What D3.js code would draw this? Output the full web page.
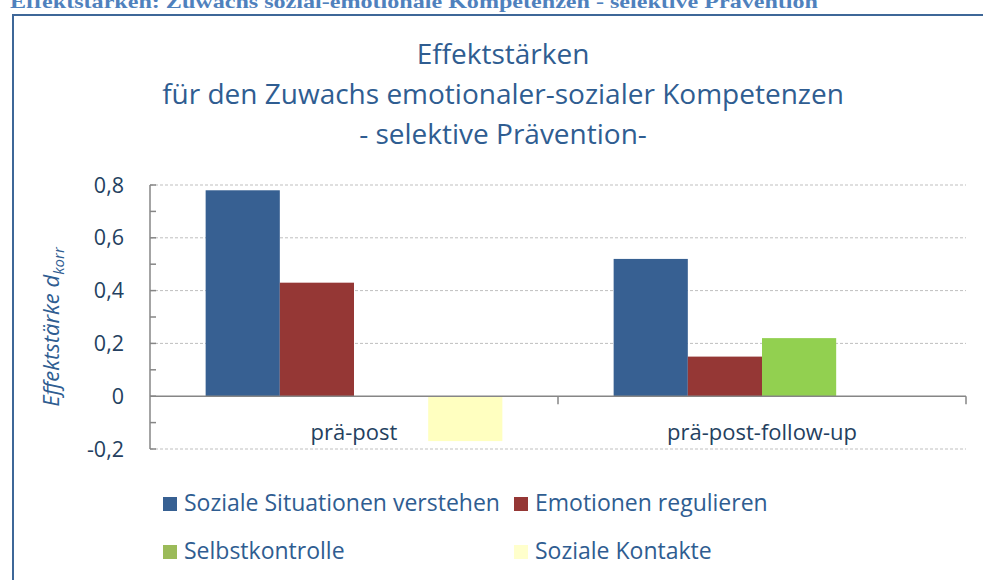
<!DOCTYPE html>
<html><head><meta charset="utf-8">
<script src="https://cdn.jsdelivr.net/npm/d3@7"></script>
<style>body{margin:0;background:#fff}svg{display:block}</style>
</head><body>
<svg id="c" width="983" height="580"></svg>
<script>
const categories = ["prä-post", "prä-post-follow-up"];
const series = ["Soziale Situationen verstehen", "Emotionen regulieren", "Selbstkontrolle", "Soziale Kontakte"];
const values = {
  "Soziale Situationen verstehen": [0.78, 0.52],
  "Emotionen regulieren": [0.43, 0.15],
  "Selbstkontrolle": [null, 0.22],
  "Soziale Kontakte": [-0.17, null]
};
const yTicks = [0.8, 0.6, 0.4, 0.2, 0, -0.2];
const barColors = ["#376092", "#953735", "#92d050", "#ffffc0"];
const legendColors = ["#376092", "#953735", "#9bbb59", "#ffffcc"];

const svg = d3.select("#c");
const font = "'Open Sans', 'Noto Sans', sans-serif";

// page heading (cut off at top, as in the original)
svg.append("text").attr("x", 10).attr("y", 8)
  .attr("font-family", "'Liberation Serif', 'Times New Roman', serif")
  .attr("font-weight", "bold").attr("font-size", 19).attr("fill", "#4f81bd")
  .attr("textLength", 808).attr("lengthAdjust", "spacingAndGlyphs")
  .text("Effektstärken: Zuwachs sozial-emotionale Kompetenzen - selektive Prävention");

// frame
svg.append("path").attr("d", "M13,580 V15 H983").attr("fill", "none")
  .attr("stroke", "#3e6798").attr("stroke-width", 2);

// title
const titleLines = ["Effektstärken", "für den Zuwachs emotionaler-sozialer Kompetenzen", "- selektive Prävention-"];
svg.append("g").selectAll("text").data(titleLines).join("text")
  .attr("x", 503).attr("y", (d, i) => 64 + i * 40)
  .attr("text-anchor", "middle").attr("font-family", font).attr("font-size", 28)
  .attr("fill", "#2f5d91").text(d => d);

const left = 150, right = 966;
const y = d3.scaleLinear().domain([-0.2, 0.8]).range([449, 185]);
const x0 = d3.scaleBand().domain(categories).range([left, right]).padding(0);
const x1 = d3.scaleBand().domain(series).range([0, x0.bandwidth()]).paddingInner(0).paddingOuter(0.75);

// gridlines
svg.append("g").selectAll("line").data(yTicks.filter(t => t !== 0)).join("line")
  .attr("x1", left).attr("x2", right).attr("y1", d => y(d)).attr("y2", d => y(d))
  .attr("stroke", "#bfbfbf").attr("stroke-width", 1).attr("stroke-dasharray", "3,2");

// bars
const g = svg.append("g");
categories.forEach((c, ci) => {
  series.forEach((s, si) => {
    const v = values[s][ci];
    if (v === null) return;
    g.append("rect")
      .attr("x", x0(c) + x1(s)).attr("width", x1.bandwidth())
      .attr("y", y(Math.max(0, v))).attr("height", Math.abs(y(v) - y(0)))
      .attr("fill", barColors[si]);
  });
});

// y axis line + minor ticks
const axisColor = "#868686";
svg.append("line").attr("x1", left).attr("x2", left).attr("y1", y(0.8)).attr("y2", y(-0.2))
  .attr("stroke", axisColor).attr("stroke-width", 1.5);
const minor = d3.range(-2, 9).map(d => d / 10);
svg.append("g").selectAll("line").data(minor).join("line")
  .attr("x1", left).attr("x2", left + 6).attr("y1", d => y(d)).attr("y2", d => y(d))
  .attr("stroke", axisColor).attr("stroke-width", 1.5);

// zero line with category ticks
svg.append("line").attr("x1", left).attr("x2", right).attr("y1", y(0)).attr("y2", y(0))
  .attr("stroke", axisColor).attr("stroke-width", 1.5);
svg.append("g").selectAll("line").data(categories).join("line")
  .attr("x1", d => x0(d) + x0.bandwidth()).attr("x2", d => x0(d) + x0.bandwidth())
  .attr("y1", y(0)).attr("y2", y(0) + 8)
  .attr("stroke", axisColor).attr("stroke-width", 1.5);

// y tick labels
svg.append("g").selectAll("text").data(yTicks).join("text")
  .attr("x", 124).attr("y", d => y(d) + 7.5).attr("text-anchor", "end")
  .attr("font-family", font).attr("font-size", 21.5).attr("fill", "#243f60")
  .text(d => d3.format(".1f")(d).replace(".", ",").replace("0,0", "0").replace("−", "-"));

// category labels
svg.append("g").selectAll("text").data(categories).join("text")
  .attr("x", d => x0(d) + x0.bandwidth() / 2).attr("y", 440).attr("text-anchor", "middle")
  .attr("font-family", font).attr("font-size", 22).attr("fill", "#243f60")
  .text(d => d);

// y axis title
const yt = svg.append("text").attr("transform", "translate(59,327) rotate(-90)")
  .attr("text-anchor", "middle").attr("font-family", font).attr("font-size", 22)
  .attr("font-style", "italic").attr("fill", "#2f5d91");
yt.append("tspan").text("Effektstärke d");
yt.append("tspan").attr("font-size", 15).attr("dy", 5).text("korr");

// legend
const legendPos = [[163, 497], [514, 497], [163, 545], [514, 545]];
const lg = svg.append("g").selectAll("g").data(series).join("g")
  .attr("transform", (d, i) => `translate(${legendPos[i][0]},${legendPos[i][1]})`);
lg.append("rect").attr("width", 14).attr("height", 14).attr("fill", (d, i) => legendColors[i]);
lg.append("text").attr("x", 21).attr("y", 14).attr("font-family", font).attr("font-size", 23)
  .attr("fill", "#2f5d91").text(d => d);
</script>
</body></html>
